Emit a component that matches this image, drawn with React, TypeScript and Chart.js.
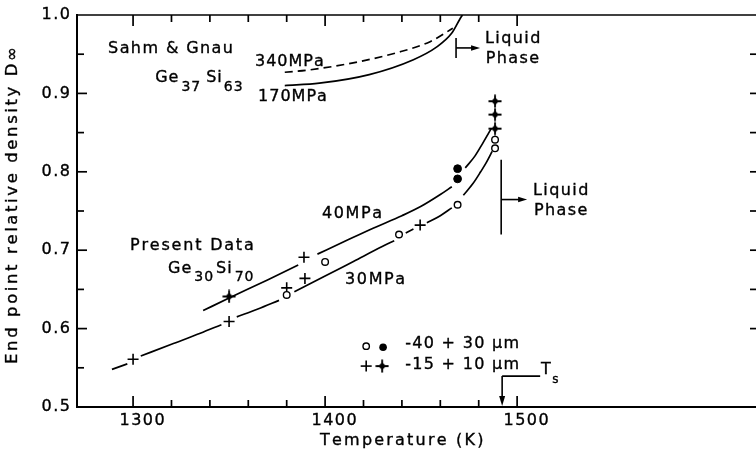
import React, { useEffect, useRef } from "react";
import { Chart, registerables } from "chart.js";

Chart.register(...registerables);

// ---------- axis data ----------
const X_MIN = 1270.8;
const X_MAX = 1624.4;
const Y_MIN = 0.5;
const Y_MAX = 1.0;
const xTickLabels = [1300, 1400, 1500];
const xMinorTicks = [1300, 1320, 1340, 1360, 1380, 1400, 1420, 1440, 1460, 1480, 1500];
const yTickLabels = ["0.5", "0.6", "0.7", "0.8", "0.9", "1.0"];
const yMinorTicks = [0.55, 0.6, 0.65, 0.7, 0.75, 0.8, 0.85, 0.9, 0.95];
const yRightTicks = [0.6, 0.65, 0.7, 0.75, 0.8, 0.85, 0.9, 0.95];

// ---------- measured points ----------
const openCircleX = [1380, 1400, 1438.5, 1469, 1488.5, 1488.5];
const openCircleY = [0.643, 0.685, 0.72, 0.758, 0.83, 0.841];
const filledCircleX = [1469, 1469];
const filledCircleY = [0.791, 0.804];
const plusX = [1300, 1350, 1380, 1389.5, 1389, 1449.5];
const plusY = [0.561, 0.609, 0.652, 0.664, 0.691, 0.732];
const starX = [1350, 1488.5, 1488.5, 1488.5];
const starY = [0.641, 0.855, 0.873, 0.89];

// ---------- fitted curves (null = pen lifted) ----------
const curve40X = [1336.5, 1350, 1370, 1386, 1391, 1396, 1410, 1425, 1440, 1450, 1460, 1466, 1469.5, 1473, 1478, 1482, 1486.5];
const curve40Y = [0.623, 0.639, 0.662, 0.681, null, 0.695, 0.711, 0.728, 0.744, 0.756, 0.771, 0.781, null, 0.805, 0.82, 0.836, 0.855];

const curve30X = [1289, 1297, 1300.5, 1304, 1320, 1335, 1346, 1350, 1354, 1365, 1376, 1380, 1384, 1400, 1415, 1430, 1436, 1439, 1442, 1446, 1449.5, 1453, 1460, 1466, 1469, 1472, 1477, 1481, 1484, 1487];
const curve30Y = [0.548, 0.555, null, 0.565, 0.58, 0.594, 0.605, null, 0.615, 0.625, 0.636, null, 0.647, 0.667, 0.686, 0.705, 0.712, null, 0.722, 0.727, null, 0.735, 0.744, 0.754, null, 0.77, 0.785, 0.8, 0.812, 0.826];

const curve340X = [1379, 1392, 1414.6, 1437.5, 1454.7, 1466.5];
const curve340Y = [0.927, 0.93, 0.939, 0.952, 0.966, 0.983];

const curve170X = [1379, 1397, 1423, 1446, 1458, 1466, 1470, 1471.5];
const curve170Y = [0.91, 0.913, 0.924, 0.943, 0.959, 0.977, 0.994, 1.0];

const FONT = '"DejaVu Sans", sans-serif';

function toPts(xs: number[], ys: (number | null)[]) {
  return xs.map((x, i) => ({ x, y: ys[i] }));
}

function makeStar(): HTMLCanvasElement {
  const c = document.createElement("canvas");
  c.width = 14;
  c.height = 14;
  const g = c.getContext("2d")!;
  g.strokeStyle = "#000";
  g.lineWidth = 1.8;
  g.beginPath();
  g.moveTo(7, 0.5);
  g.lineTo(7, 13.5);
  g.moveTo(0.5, 7);
  g.lineTo(13.5, 7);
  g.stroke();
  g.fillStyle = "#000";
  g.beginPath();
  g.moveTo(7, 3);
  g.lineTo(10.8, 7);
  g.lineTo(7, 11);
  g.lineTo(3.2, 7);
  g.closePath();
  g.fill();
  return c;
}

// text with manual letter spacing; align: 0 left, 0.5 center, 1 right
function spaced(ctx: CanvasRenderingContext2D, s: string, x: number, y: number, ls: number, align = 0) {
  const chars = Array.from(s);
  const widths = chars.map((c) => ctx.measureText(c).width);
  const total = widths.reduce((p, w) => p + w, 0) + ls * (chars.length - 1);
  let px = x - total * align;
  ctx.textAlign = "left";
  ctx.lineWidth = 0.35;
  chars.forEach((c, i) => {
    ctx.fillText(c, px, y);
    ctx.strokeText(c, px, y);
    px += widths[i] + ls;
  });
  return total;
}

const axesPlugin = {
  id: "axesDecor",
  afterDraw(chart: any) {
    const { ctx, chartArea: a, scales } = chart;
    const L = a.left;
    const B = a.bottom;
    const T = a.top;
    const R = a.right;
    ctx.save();
    ctx.strokeStyle = "#000";
    ctx.lineWidth = 1.7;
    for (const v of xMinorTicks) {
      const px = scales.x.getPixelForValue(v);
      const len = Math.abs(v % 100) < 1e-6 ? 11 : 7;
      ctx.beginPath();
      ctx.moveTo(px, B);
      ctx.lineTo(px, B - len);
      ctx.moveTo(px, T);
      ctx.lineTo(px, T + len);
      ctx.stroke();
    }
    for (const v of yMinorTicks) {
      const py = scales.y.getPixelForValue(v);
      const major = Math.abs(Math.round(v * 10) - v * 10) < 1e-6;
      ctx.beginPath();
      ctx.moveTo(L, py);
      ctx.lineTo(L + (major ? 10 : 7), py);
      ctx.stroke();
    }
    for (const v of yRightTicks) {
      const py = scales.y.getPixelForValue(v);
      ctx.beginPath();
      ctx.moveTo(R - 6, py);
      ctx.lineTo(R, py);
      ctx.stroke();
    }
    ctx.lineWidth = 2;
    ctx.beginPath();
    ctx.moveTo(L, T - 1);
    ctx.lineTo(L, B + 1);
    ctx.moveTo(L - 1, B);
    ctx.lineTo(R, B);
    ctx.stroke();
    ctx.lineWidth = 1.5;
    ctx.beginPath();
    ctx.moveTo(L, T);
    ctx.lineTo(R, T);
    ctx.stroke();

    ctx.fillStyle = "#000";
    ctx.font = `16px ${FONT}`;
    ctx.textBaseline = "middle";
    for (const v of xTickLabels) {
      spaced(ctx, String(v), scales.x.getPixelForValue(v) + 9, B + 14, 1.5, 0.5);
    }
    for (const s of yTickLabels) {
      spaced(ctx, s, L - 7, scales.y.getPixelForValue(parseFloat(s)), 1.5, 1);
    }
    spaced(ctx, "Temperature (K)", scales.x.getPixelForValue(1397.4), B + 34, 2.2, 0);
    ctx.save();
    ctx.translate(13, scales.y.getPixelForValue(0.7557) - 1);
    ctx.rotate(-Math.PI / 2);
    ctx.font = `16.5px ${FONT}`;
    spaced(ctx, "End point relative density D\u221e", 0, 0, 2.6, 0.5);
    ctx.restore();
    ctx.restore();
  },
};

function makeNotes(star: HTMLCanvasElement) {
  return {
    id: "notes",
    afterDraw(chart: any) {
      const { ctx, scales } = chart;
      const X = (v: number) => scales.x.getPixelForValue(v);
      const Y = (v: number) => scales.y.getPixelForValue(v);
      const seg = (x1: number, y1: number, x2: number, y2: number) => {
        ctx.lineWidth = 1.6;
        ctx.beginPath();
        ctx.moveTo(x1, y1);
        ctx.lineTo(x2, y2);
        ctx.stroke();
      };
      const text = (s: string, kx: number, dy: number, size = 16, ls = 2) => {
        ctx.font = `${size}px ${FONT}`;
        ctx.textBaseline = "middle";
        spaced(ctx, s, X(kx), Y(dy), ls, 0);
      };
      const chem = (runs: [string, boolean, number][], kx: number, dy: number) => {
        let px = X(kx);
        const py = Y(dy);
        ctx.textBaseline = "middle";
        for (const [s, sub, gap] of runs) {
          ctx.font = `${sub ? 14 : 16}px ${FONT}`;
          const w = spaced(ctx, s, px, sub ? py + 9 : py, 1, 0);
          px += w + gap;
        }
      };
      const arrowRight = (kx1: number, kx2: number, dy: number) => {
        const py = Y(dy);
        const x2 = X(kx2);
        seg(X(kx1), py, x2 - 6, py);
        ctx.beginPath();
        ctx.moveTo(x2, py);
        ctx.lineTo(x2 - 9, py - 2.8);
        ctx.lineTo(x2 - 9, py + 2.8);
        ctx.closePath();
        ctx.fill();
      };

      ctx.save();
      ctx.fillStyle = "#000";
      ctx.strokeStyle = "#000";

      text("Sahm & Gnau", 1287.0, 0.9567, 16, 1.4);
      chem([["Ge", false, 3], ["37", true, 6], ["Si", false, 2], ["63", true, 0]], 1311.5, 0.9198);
      text("340MPa", 1363.5, 0.9402, 16, 1.0);
      text("170MPa", 1365.1, 0.8957, 16, 1.0);

      text("Present Data", 1298.4, 0.7061, 16, 1.8);
      chem([["Ge", false, 3], ["30", true, 3], ["Si", false, 3], ["70", true, 0]], 1318.2, 0.6768);
      text("40MPa", 1398.4, 0.7468, 16, 1.6);
      text("30MPa", 1410.4, 0.6628, 16, 1.6);

      seg(X(1468.2), Y(0.9707), X(1468.2), Y(0.9453));
      arrowRight(1468.2, 1480.7, 0.958);
      text("Liquid", 1483.3, 0.9695, 16, 1.4);
      text("Phase", 1483.6, 0.944, 16, 1.4);

      seg(X(1491.7), Y(0.8155), X(1491.7), Y(0.7201));
      arrowRight(1491.7, 1505.2, 0.7646);
      text("Liquid", 1508.3, 0.7761, 16, 1.4);
      text("Phase", 1508.8, 0.7506, 16, 1.4);

      const tsx = X(1492.2);
      const tsy = Y(0.5394);
      seg(tsx, tsy, X(1512.0), tsy);
      seg(tsx, tsy, tsx, Y(0.5) - 6);
      ctx.beginPath();
      ctx.moveTo(tsx, Y(0.5) - 1);
      ctx.lineTo(tsx - 3, Y(0.5) - 11);
      ctx.lineTo(tsx + 3, Y(0.5) - 11);
      ctx.closePath();
      ctx.fill();
      text("T", 1512.5, 0.5471, 16, 0);
      text("s", 1518.3, 0.5343, 12, 0);

      ctx.lineWidth = 1.4;
      ctx.beginPath();
      ctx.arc(X(1421.4), Y(0.5776), 3.2, 0, Math.PI * 2);
      ctx.stroke();
      ctx.beginPath();
      ctx.arc(X(1430.2), Y(0.5763), 3.8, 0, Math.PI * 2);
      ctx.fill();
      const px = X(1421.4);
      const py = Y(0.5522);
      seg(px - 5.5, py, px + 5.5, py);
      seg(px, py - 5.5, px, py + 5.5);
      ctx.drawImage(star, X(1429.7) - 7, Y(0.5522) - 7);
      text("-40 + 30 \u03bcm", 1441.7, 0.5802, 16, 1.3);
      text("-15 + 10 \u03bcm", 1441.7, 0.5534, 16, 1.3);
      ctx.restore();
    },
  };
}

export default function App() {
  const ref = useRef<HTMLCanvasElement>(null);
  useEffect(() => {
    const canvas = ref.current;
    if (!canvas) return;
    const star = makeStar();
    const curve = (xs: number[], ys: (number | null)[], dash: number[] = []) => ({
      data: toPts(xs, ys),
      showLine: true,
      pointRadius: 0,
      borderColor: "#000",
      borderWidth: 1.7,
      borderDash: dash,
      cubicInterpolationMode: "monotone" as const,
      spanGaps: false,
      order: 2,
    });
    const chart = new Chart(canvas, {
      type: "scatter",
      data: {
        datasets: [
          {
            label: "open",
            data: toPts(openCircleX, openCircleY),
            pointStyle: "circle",
            pointRadius: 3.3,
            borderColor: "#000",
            backgroundColor: "#fff",
            borderWidth: 1.4,
            order: 0,
          },
          {
            label: "filled",
            data: toPts(filledCircleX, filledCircleY),
            pointStyle: "circle",
            pointRadius: 3.9,
            borderColor: "#000",
            backgroundColor: "#000",
            borderWidth: 1,
            order: 0,
          },
          {
            label: "plus",
            data: toPts(plusX, plusY),
            pointStyle: "cross",
            pointRadius: 5.5,
            borderColor: "#000",
            borderWidth: 1.6,
            order: 0,
          },
          {
            label: "star",
            data: toPts(starX, starY),
            pointStyle: star as any,
            pointRadius: 7,
            order: 0,
          },
          curve(curve40X, curve40Y) as any,
          curve(curve30X, curve30Y) as any,
          curve(curve340X, curve340Y, [8, 5]) as any,
          curve(curve170X, curve170Y) as any,
        ],
      },
      options: {
        responsive: false,
        animation: false,
        devicePixelRatio: 1,
        events: [],
        layout: { autoPadding: false, padding: { left: 77, top: 15, right: 0, bottom: 47 } },
        scales: {
          x: { type: "linear", display: false, min: X_MIN, max: X_MAX },
          y: { type: "linear", display: false, min: Y_MIN, max: Y_MAX },
        },
        plugins: { legend: { display: false }, tooltip: { enabled: false } },
      },
      plugins: [axesPlugin, makeNotes(star)],
    });
    return () => chart.destroy();
  }, []);
  return (
    <div style={{ position: "fixed", left: 0, top: 0, width: 756, height: 454, background: "#fff" }}>
      <canvas ref={ref} width={756} height={454} style={{ display: "block", width: 756, height: 454 }} />
    </div>
  );
}
